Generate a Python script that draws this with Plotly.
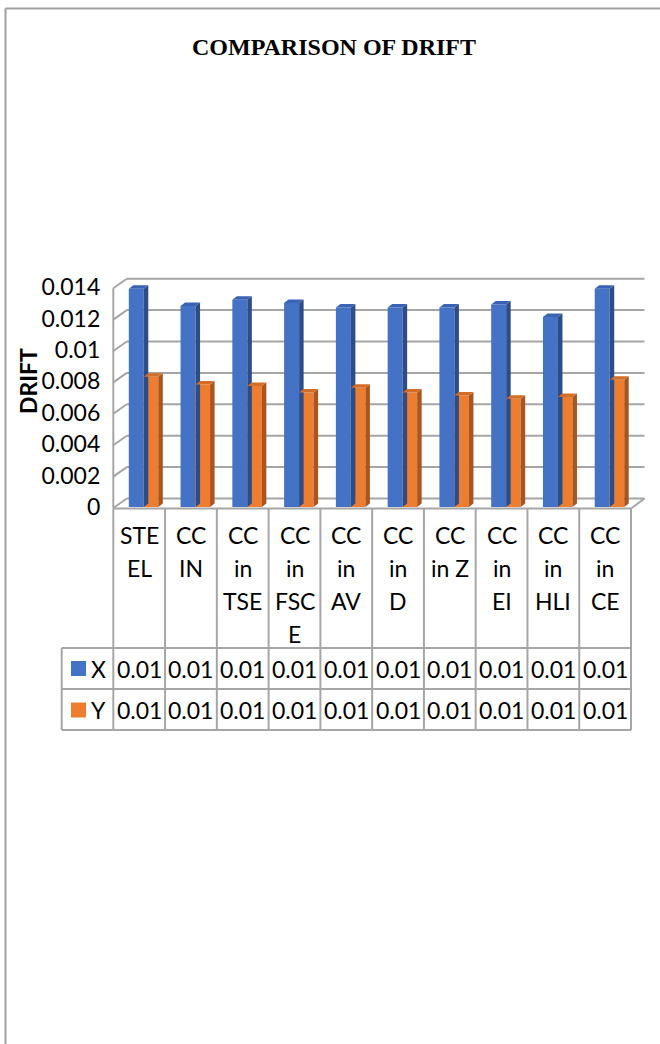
import plotly.graph_objects as go

# ---------------- data ----------------
categories = ["STEEL", "CC IN", "CC in TSE", "CC in FSCE", "CC in AV",
              "CC in D", "CC in Z", "CC in EI", "CC in HLI", "CC in CE"]
cat_lines = [["STE", "EL"], ["CC", "IN"], ["CC", "in", "TSE"], ["CC", "in", "FSC", "E"],
             ["CC", "in", "AV"], ["CC", "in", "D"], ["CC", "in Z"], ["CC", "in", "EI"],
             ["CC", "in", "HLI"], ["CC", "in", "CE"]]
drift_x = [0.0139, 0.0128, 0.0132, 0.0130, 0.0127, 0.0127, 0.0127, 0.0129, 0.0121, 0.0139]
drift_y = [0.0083, 0.0078, 0.0077, 0.0073, 0.0076, 0.0073, 0.0071, 0.0069, 0.0070, 0.0081]
series_names = ["X", "Y"]
y_ticks = [0, 0.002, 0.004, 0.006, 0.008, 0.010, 0.012, 0.014]
y_tick_labels = ["0", "0.002", "0.004", "0.006", "0.008", "0.01", "0.012", "0.014"]
title = "COMPARISON OF DRIFT"
y_title = "DRIFT"

# ---------------- layout constants ----------------
W, H = 660, 1044
X0_PX = 113.3          # pixel of category boundary 0
COL_PX = 51.77         # pixel width of a category
Y0_PX = 507.0          # pixel of value 0 (bar base)
PX_PER_UNIT = 15700.0  # pixels per drift unit

FONT = "Lato"
FS = 23
GRID = "#a6a6a6"
TABLE = "#a6a6a6"

front = {"X": "#4472C4", "Y": "#ED7D31"}
side = {"X": "#2d4d89", "Y": "#a9551d"}
top = {"X": "#3a64b3", "Y": "#d36d27"}


def xd(px):  # pixel -> x data
    return (px - X0_PX) / COL_PX


def dyd(px):  # pixel distance -> y data distance
    return px / PX_PER_UNIT


def P(px):
    return px / W


def Q(py):
    return 1 - py / H


fig = go.Figure()

# back wall depth offset
WALL_DX = 13.5 / COL_PX
WALL_DY = dyd(8.5)
FRONT_DY = -dyd(1.0)

shapes = []
for v in y_ticks:
    # back wall gridline
    shapes.append(dict(type="line", xref="x", yref="y", layer="below",
                       x0=WALL_DX, x1=len(categories) + WALL_DX,
                       y0=v + WALL_DY, y1=v + WALL_DY,
                       line=dict(color=GRID, width=2)))
    # left wall diagonal
    shapes.append(dict(type="line", xref="x", yref="y", layer="below",
                       x0=0, x1=WALL_DX, y0=v + FRONT_DY, y1=v + WALL_DY,
                       line=dict(color=GRID, width=2)))
# front-left vertical edge
shapes.append(dict(type="line", xref="x", yref="y", layer="below",
                   x0=0, x1=0, y0=FRONT_DY - dyd(0.5), y1=y_ticks[-1] + FRONT_DY,
                   line=dict(color=GRID, width=2)))
# floor front edge and right diagonal
shapes.append(dict(type="line", xref="x", yref="y", layer="below",
                   x0=0, x1=len(categories), y0=FRONT_DY - dyd(0.5), y1=FRONT_DY - dyd(0.5),
                   line=dict(color=GRID, width=2)))
shapes.append(dict(type="line", xref="x", yref="y", layer="below",
                   x0=len(categories), x1=len(categories) + WALL_DX,
                   y0=FRONT_DY - dyd(0.5), y1=WALL_DY,
                   line=dict(color=GRID, width=2)))

# ---------------- bars ----------------
BAR_W = {"X": 15.0 / COL_PX, "Y": 14.5 / COL_PX}
BAR_OFF = {"X": 15.5 / COL_PX, "Y": 30.5 / COL_PX}
BDX = 4.5 / COL_PX
BDY = dyd(3.5)

for name, vals in zip(series_names, [drift_x, drift_y]):
    sx, sy, tx, ty = [], [], [], []
    for i, v in enumerate(vals):
        xl = i + BAR_OFF[name]
        xr = xl + BAR_W[name]
        sx += [xr, xr + BDX, xr + BDX, xr, xr, None]
        sy += [0, BDY, v + BDY, v, 0, None]
        tx += [xl, xr, xr + BDX, xl + BDX, xl, None]
        ty += [v, v, v + BDY, v + BDY, v, None]
    fig.add_trace(go.Scatter(x=sx, y=sy, mode="lines", fill="toself",
                             fillcolor=side[name], line=dict(width=0),
                             showlegend=False, hoverinfo="skip"))
    fig.add_trace(go.Scatter(x=tx, y=ty, mode="lines", fill="toself",
                             fillcolor=top[name], line=dict(width=0),
                             showlegend=False, hoverinfo="skip"))
    fig.add_trace(go.Bar(x=list(range(len(categories))), y=vals, base=0,
                         offset=BAR_OFF[name], width=BAR_W[name],
                         marker=dict(color=front[name], line=dict(width=0)),
                         name=name, showlegend=False))

# ---------------- data table ----------------
ROW_TOP = 509.0
ROW1 = 648.0
ROW2 = 689.0
ROW3 = 730.0
LEG_LEFT = 61.7

for i in range(len(categories) + 1):
    shapes.append(dict(type="line", xref="x", yref="paper",
                       x0=i, x1=i, y0=Q(ROW_TOP), y1=Q(ROW3),
                       line=dict(color=TABLE, width=2)))
shapes.append(dict(type="line", xref="x", yref="paper",
                   x0=xd(LEG_LEFT), x1=xd(LEG_LEFT), y0=Q(ROW1), y1=Q(ROW3),
                   line=dict(color=TABLE, width=2)))
for r in (ROW1, ROW2, ROW3):
    shapes.append(dict(type="line", xref="x", yref="paper",
                       x0=xd(LEG_LEFT), x1=len(categories), y0=Q(r), y1=Q(r),
                       line=dict(color=TABLE, width=2)))

annotations = []
LINE0 = 535.0
LINE_STEP = 33.0
for i, lines in enumerate(cat_lines):
    for k, t in enumerate(lines):
        annotations.append(dict(text=t, xref="x", yref="paper", x=i + 0.5,
                                y=Q(LINE0 + LINE_STEP * k), showarrow=False,
                                xanchor="center", yanchor="middle",
                                font=dict(family=FONT, size=FS, color="black")))

row_centers = {"X": 668.5, "Y": 710.0}
for name, vals in zip(series_names, [drift_x, drift_y]):
    yc = row_centers[name]
    for i, v in enumerate(vals):
        annotations.append(dict(text=f"{v:.2f}", xref="x", yref="paper", x=i + 0.5,
                                y=Q(yc), showarrow=False, xanchor="center",
                                yanchor="middle",
                                font=dict(family=FONT, size=FS, color="black")))
    shapes.append(dict(type="rect", xref="paper", yref="paper",
                       x0=P(71), x1=P(86), y0=Q(yc - 7.5), y1=Q(yc + 7.5),
                       fillcolor=front[name], line=dict(width=0)))
    annotations.append(dict(text=name, xref="paper", yref="paper", x=P(98.5),
                            y=Q(yc), showarrow=False, xanchor="center",
                            yanchor="middle",
                            font=dict(family=FONT, size=FS, color="black")))

# title and axis title
annotations.append(dict(text=f"<b>{title}</b>", xref="paper", yref="paper",
                        x=P(334), y=Q(47), showarrow=False, xanchor="center",
                        yanchor="middle",
                        font=dict(family="Liberation Serif", size=24, color="black")))
annotations.append(dict(text=f"<b>{y_title}</b>", xref="paper", yref="paper",
                        x=P(28), y=Q(381), showarrow=False, textangle=-90,
                        xanchor="center", yanchor="middle",
                        font=dict(family=FONT, size=FS, color="black")))

# outer border (left and top visible)
shapes.append(dict(type="line", xref="paper", yref="paper", x0=P(5.5), x1=P(5.5),
                   y0=Q(8.5), y1=0, line=dict(color="#a0a0a0", width=2)))
shapes.append(dict(type="line", xref="paper", yref="paper", x0=P(5.5), x1=1,
                   y0=Q(8.5), y1=Q(8.5), line=dict(color="#a0a0a0", width=2)))

fig.update_layout(
    width=W, height=H, autosize=False,
    margin=dict(l=0, r=0, t=0, b=0, pad=0),
    paper_bgcolor="white", plot_bgcolor="rgba(0,0,0,0)",
    barmode="overlay", showlegend=False,
    xaxis=dict(range=[xd(0), xd(W)], domain=[0, 1], visible=False, fixedrange=True),
    yaxis=dict(range=[(Y0_PX - H) / PX_PER_UNIT, Y0_PX / PX_PER_UNIT], domain=[0, 1],
               anchor="free", position=X0_PX / W, tickvals=y_ticks,
               ticktext=y_tick_labels, showgrid=False, zeroline=False,
               showline=False, ticks="", ticklabelstandoff=13,
               tickfont=dict(family=FONT, size=FS, color="black"), fixedrange=True),
    shapes=shapes, annotations=annotations,
)

fig.write_html("out.html")
